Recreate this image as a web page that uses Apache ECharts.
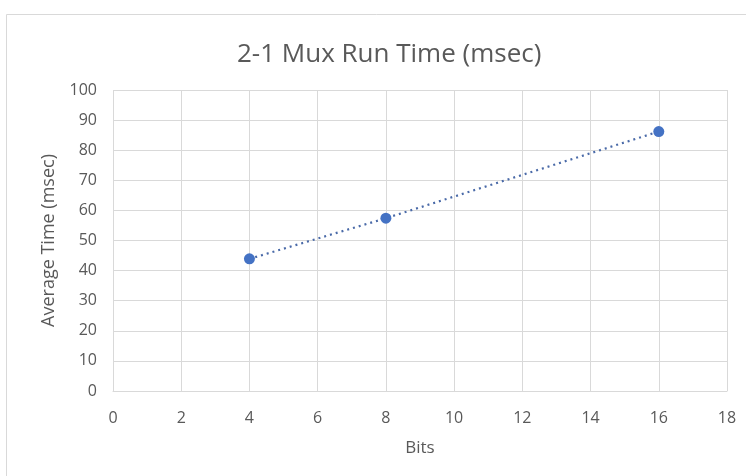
<!DOCTYPE html>
<html><head><meta charset="utf-8">
<script src="https://cdn.jsdelivr.net/npm/echarts@6/dist/echarts.min.js"></script>
<style>html,body{margin:0;padding:0;background:#fff}#c{width:746px;height:476px}</style>
</head><body><div id="c"></div>
<script>
const title = '2-1 Mux Run Time (msec)';
const xName = 'Bits';
const yName = 'Average Time (msec)';
const bits = [4, 8, 16];
const avgTime = [43.9, 57.4, 86.2];

const chart = echarts.init(document.getElementById('c'));
const font = '"Open Sans", "Noto Sans", sans-serif';
chart.setOption({
  animation: false,
  title: { text: title, left: 232, top: 37, textStyle: { fontFamily: font, fontSize: 26, fontWeight: 'normal', color: '#595959' } },
  graphic: [{ type: 'rect', shape: { x: 6.5, y: 14.5, width: 760, height: 480 }, style: { fill: 'none', stroke: '#d9d9d9', lineWidth: 1 }, silent: true }],
  grid: { left: 113, right: 19, top: 90, bottom: 85 },
  xAxis: {
    type: 'value', min: 0, max: 18, interval: 2,
    name: xName, nameLocation: 'middle', nameGap: 49,
    nameTextStyle: { fontFamily: font, fontSize: 17, color: '#595959' },
    axisLine: { show: true, lineStyle: { color: '#d9d9d9' } },
    axisTick: { show: false },
    axisLabel: { fontFamily: font, fontSize: 16, color: '#595959', margin: 19 },
    splitLine: { show: true, lineStyle: { color: '#d9d9d9' } }
  },
  yAxis: {
    type: 'value', min: 0, max: 100, interval: 10,
    name: yName, nameLocation: 'middle', nameGap: 55,
    nameTextStyle: { fontFamily: font, fontSize: 18, color: '#595959' },
    axisLine: { show: false }, axisTick: { show: false },
    axisLabel: { fontFamily: font, fontSize: 16, color: '#595959', margin: 16 },
    splitLine: { show: true, lineStyle: { color: '#d9d9d9' } }
  },
  series: [{
    type: 'line',
    data: bits.map((b, i) => [b, avgTime[i]]),
    symbol: 'circle', symbolSize: 11,
    itemStyle: { color: '#4472C4' },
    lineStyle: { color: '#4a6aa8', width: 2.2, type: [2, 4] }
  }]
});
</script></body></html>
